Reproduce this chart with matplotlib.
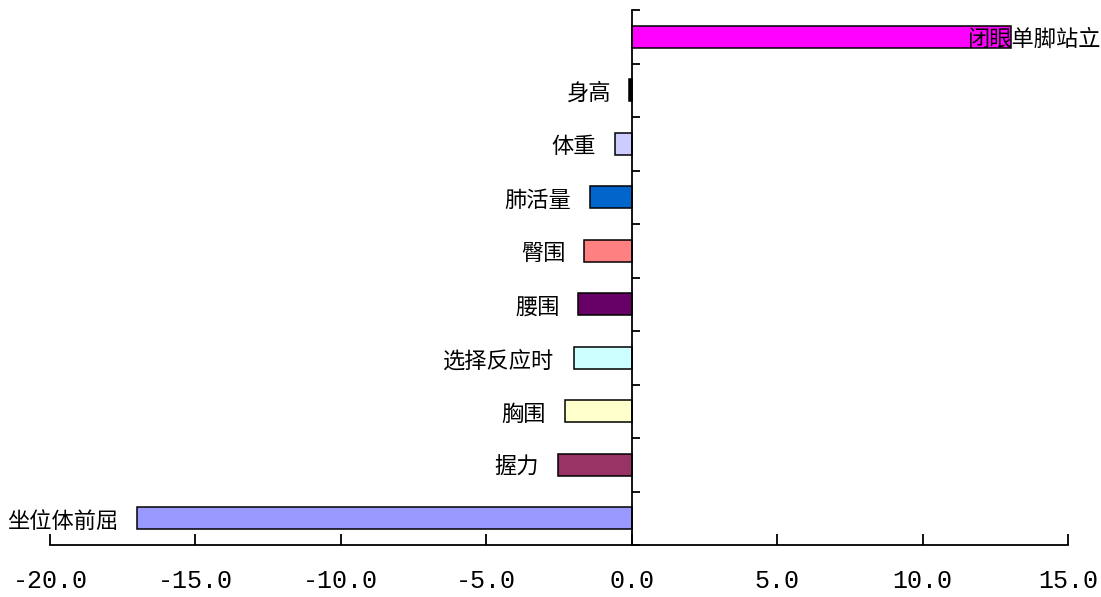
import matplotlib
matplotlib.use('Agg')
import matplotlib.pyplot as plt
import numpy as np

plt.rcParams['font.family'] = ['Noto Sans CJK SC', 'DejaVu Sans']

# bottom -> top
items = ['坐位体前屈', '握力', '胸围', '选择反应时', '腰围', '臀围',
         '肺活量', '体重', '身高', '闭眼单脚站立']
values = [-17.0, -2.53, -2.3, -2.0, -1.83, -1.63, -1.43, -0.57, -0.09, 13.05]
colors = ['#9999FF', '#993366', '#FFFFCC', '#CCFFFF', '#660066', '#FF8080',
          '#0066CC', '#CCCCFF', '#000000', '#FF00FF']
xticks = [-20, -15, -10, -5, 0, 5, 10, 15]

fig = plt.figure(figsize=(11.01, 5.97), dpi=100)
ax = fig.add_axes([50 / 1101, 1 - 545 / 597, 1018 / 1101, 535 / 597])

y = np.arange(len(items))
ax.barh(y, values, height=0.42, color=colors, edgecolor='black', linewidth=1.1,
        zorder=3)

ax.set_xlim(-20, 15)
ax.set_ylim(-0.5, len(items) - 0.5)

for s in ('top', 'right'):
    ax.spines[s].set_visible(False)
ax.spines['left'].set_position(('data', 0))
ax.spines['left'].set_zorder(4)
for s in ('left', 'bottom'):
    ax.spines[s].set_linewidth(1.3)

ax.set_yticks(np.arange(-0.5, len(items), 1.0))
ax.set_yticklabels([])
ax.tick_params(axis='y', direction='in', length=6, width=1.3)

ax.set_xticks(xticks)
ax.set_xticklabels([f'{v:.1f}' for v in xticks], family='Liberation Mono',
                   fontsize=18)
ax.tick_params(axis='x', direction='in', length=8, width=1.3, pad=17)

# category labels beside each bar
for yi, (name, v) in enumerate(zip(items, values)):
    if v < 0:
        ax.annotate(name, (v, yi), xytext=(-19, -3), textcoords='offset pixels',
                    ha='right', va='center', fontsize=16, zorder=5)
    else:
        ax.annotate(name, (v, yi), xytext=(-44, -3), textcoords='offset pixels',
                    ha='left', va='center', fontsize=16, zorder=5)

fig.savefig('out.png', dpi=100, facecolor='white')
